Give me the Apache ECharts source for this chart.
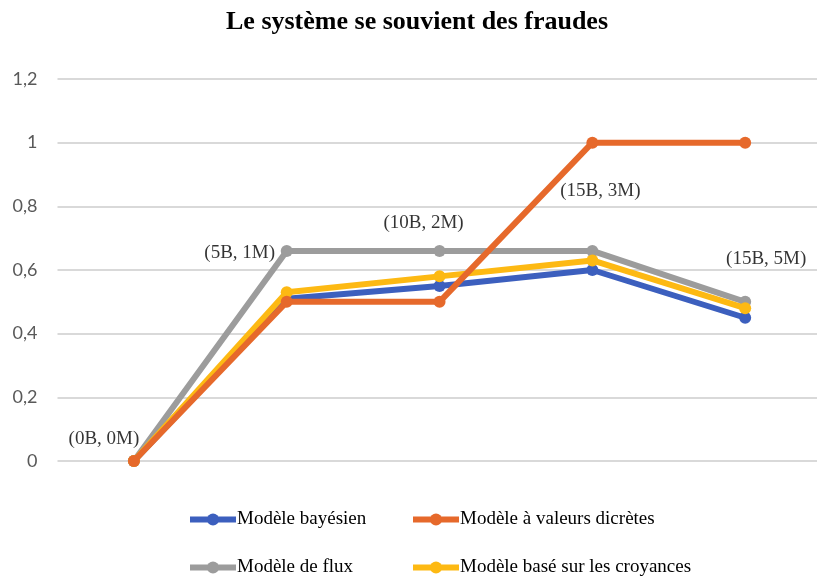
<!DOCTYPE html>
<html><head><meta charset="utf-8">
<script src="https://cdn.jsdelivr.net/npm/echarts@6/dist/echarts.min.js"></script>
<style>html,body{margin:0;padding:0;background:#fff}#c{width:817px;height:579px}</style>
</head><body><div id="c"></div>
<script>
const categories = ['(0B, 0M)', '(5B, 1M)', '(10B, 2M)', '(15B, 3M)', '(15B, 5M)'];
const bayesien = [0, 0.51, 0.55, 0.60, 0.45];
const discretes = [0, 0.50, 0.50, 1.00, 1.00];
const flux = [0, 0.66, 0.66, 0.66, 0.50];
const croyances = [0, 0.53, 0.58, 0.63, 0.48];
const yTicks = ['0', '0,2', '0,4', '0,6', '0,8', '1', '1,2'];
const seriesNames = ['Modèle bayésien', 'Modèle à valeurs dicrètes', 'Modèle de flux', 'Modèle basé sur les croyances'];
// annotation anchors: which series value each category label sits next to
const annotationAnchor = [flux[0], flux[1], flux[2], discretes[3], flux[4]];
const annotationOffsets = [[-30, -22], [-47, 2], [-16, -28], [8, 48], [21, -43]];

const colors = ['#3C5FBE', '#E6692B', '#9C9C9C', '#FDB913'];
const serif = 'Liberation Serif';

// category index -> position on a numeric x axis (chart is cropped on the right)
const pairs = (arr) => arr.map((v, i) => [i, v]);

function lineSeries(name, data, color, z) {
  return {
    name, type: 'line', data: pairs(data), z,
    symbol: 'circle', symbolSize: 12,
    lineStyle: { width: 6, color },
    itemStyle: { color },
    emphasis: { disabled: true }
  };
}

function legendBlock(names, left) {
  return {
    data: names, orient: 'vertical',
    left, top: 510, padding: 0, itemGap: 29,
    itemWidth: 46, itemHeight: 15,
    lineStyle: { width: 6 },
    textStyle: { fontFamily: serif, fontSize: 19, color: '#000', padding: [0, 0, 0, -4] }
  };
}

const chart = echarts.init(document.getElementById('c'), null, { renderer: 'canvas' });
chart.setOption({
  animation: false,
  backgroundColor: '#fff',
  title: {
    text: 'Le système se souvient des fraudes',
    left: 226, top: 9, padding: 0,
    textStyle: { fontFamily: serif, fontWeight: 'bold', fontSize: 26, color: '#000' }
  },
  grid: { left: 57.5, right: 0, top: 79, bottom: 118, containLabel: false },
  xAxis: {
    type: 'value', min: -0.5, max: 4.47,
    splitLine: { show: false },
    axisLine: { show: false }, axisTick: { show: false }, axisLabel: { show: false }
  },
  yAxis: {
    type: 'value', min: 0, max: 1.2, interval: 0.2,
    axisLabel: {
      margin: 20, fontFamily: 'Lato', fontSize: 18, color: '#595959',
      formatter: (v) => yTicks[Math.round(v / 0.2)]
    },
    splitLine: { lineStyle: { color: '#D9D9D9', width: 2 } },
    axisLine: { show: false }, axisTick: { show: false }
  },
  legend: [
    legendBlock([seriesNames[0], seriesNames[2]], 187),
    legendBlock([seriesNames[1], seriesNames[3]], 410)
  ],
  series: [
    lineSeries(seriesNames[0], bayesien, colors[0], 2),
    lineSeries(seriesNames[2], flux, colors[2], 3),
    lineSeries(seriesNames[3], croyances, colors[3], 4),
    lineSeries(seriesNames[1], discretes, colors[1], 5),
    {
      name: 'annotations', type: 'scatter', symbolSize: 0, z: 10, silent: true,
      data: annotationAnchor.map((v, i) => ({
        value: [i, v],
        label: {
          show: true, formatter: categories[i], position: 'inside',
          offset: annotationOffsets[i],
          fontFamily: serif, fontSize: 19, color: '#000'
        }
      }))
    }
  ]
});
</script></body></html>
